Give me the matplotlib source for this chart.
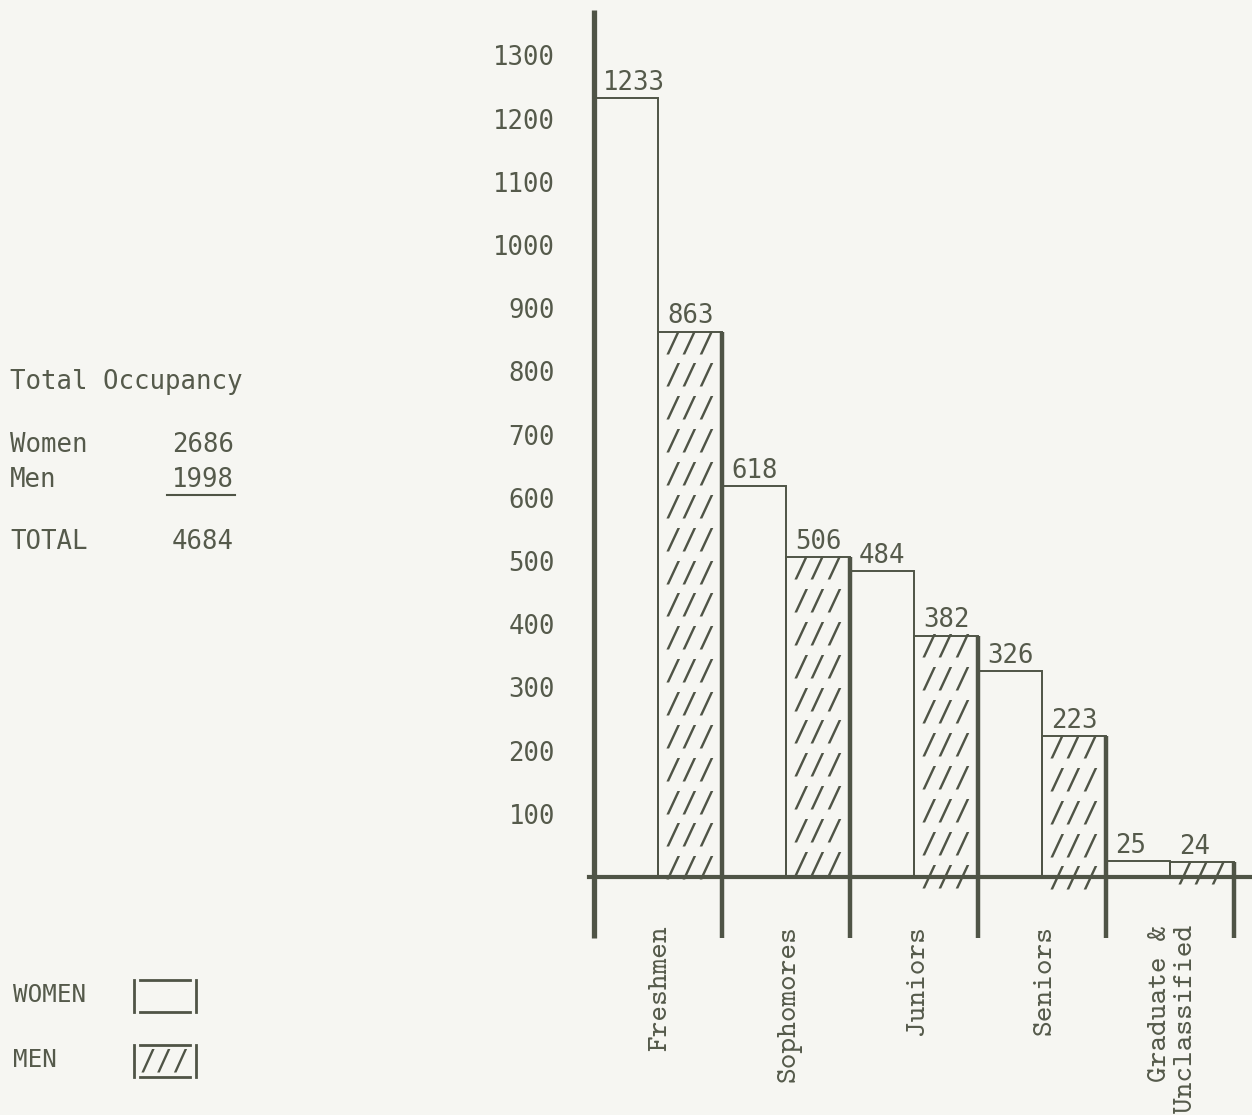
"""Residence hall occupancy by class, women vs men (typewritten style)."""

import matplotlib
matplotlib.use("Agg")
import matplotlib.pyplot as plt
from matplotlib.lines import Line2D

classes = ["Freshmen", "Sophomores", "Juniors", "Seniors", "Graduate &\nUnclassified"]
women = [1233, 618, 484, 326, 25]
men = [863, 506, 382, 223, 24]
y_ticks = list(range(100, 1400, 100))

INK = "#4f5446"
TEXT = "#555a4b"
PAPER = "#f6f6f2"
MONO = "DejaVu Sans Mono"
TYPEWRITER = ["cmtt10", "Liberation Mono"]
W, H = 1252, 1115


def px(x, y):
    """Pixel position (from top-left) to figure fraction."""
    return x / W, 1 - y / H


fig = plt.figure(figsize=(W / 100, H / 100), dpi=100, facecolor=PAPER)
ax = fig.add_axes([594 / W, 177 / H, 656 / W, 928 / H])
ax.set_facecolor("none")
ax.set_xlim(0, 10.25)
ax.set_ylim(-96.5, 1372)
for s in ax.spines.values():
    s.set_visible(False)
ax.set_xticks([])
ax.set_yticks(y_ticks)
ax.set_yticklabels([str(v) for v in y_ticks], family=MONO, fontsize=18.5, color=TEXT)
ax.tick_params(axis="y", length=0, pad=28)

# women bar then men bar inside each class slot
x_w = [2 * i for i in range(len(classes))]
x_m = [2 * i + 1 for i in range(len(classes))]
wb = ax.bar(x_w, women, width=1, align="edge", facecolor="none",
            edgecolor=INK, linewidth=1.4)
mb = ax.bar(x_m, men, width=1, align="edge", facecolor="none",
            edgecolor=INK, linewidth=1.4)

# typed "///" rows as hatching for the men bars
row_step = 52
for bar, h in zip(mb, men):
    cx = bar.get_x() + bar.get_width() / 2
    y = h - 18
    while y > -25:
        t = ax.text(cx, y, "///", ha="center", va="center", family=MONO,
                    fontsize=20.5, color=INK)
        t.set_clip_path(bar)
        y -= row_step

# thick dividers between classes, running below the baseline
for i, h in enumerate(men):
    xd = 2 * i + 2
    ax.plot([xd, xd], [-96, h], color=INK, lw=3.2, solid_capstyle="butt",
            clip_on=False)
ax.plot([0, 0], [-96, 1372], color=INK, lw=3.8, solid_capstyle="butt", clip_on=False)
ax.plot([-0.08, 10.25], [0, 0], color=INK, lw=3.0, clip_on=False)

# value labels sitting on the bar tops
for bars, vals in ((wb, women), (mb, men)):
    for bar, v in zip(bars, vals):
        ax.text(bar.get_x() + 0.14, v + 13, str(v), ha="left", va="baseline",
                family=MONO, fontsize=18.5, color=TEXT)

# rotated class names under the axis
for i, c in enumerate(classes):
    ax.text(2 * i + 1.05, -76, c, rotation=90, ha="center", va="top",
            multialignment="right", family=TYPEWRITER, fontsize=21.5,
            linespacing=1.05, color=TEXT, clip_on=False)

# summary block on the left
fs = 18.5
fig.text(*px(10, 382), "Total Occupancy", ha="left", va="center",
         family=MONO, fontsize=fs, color=TEXT)
for lab, val, yy in zip(["Women", "Men"], [sum(women), sum(men)], (445, 480)):
    fig.text(*px(10, yy), lab, ha="left", va="center", family=MONO,
             fontsize=fs, color=TEXT)
    fig.text(*px(234, yy), str(val), ha="right", va="center", family=MONO,
             fontsize=fs, color=TEXT)
fig.add_artist(Line2D([167 / W, 235 / W], [1 - 495 / H] * 2, color=INK, lw=1.5))
fig.text(*px(10, 542), "TOTAL", ha="left", va="center", family=MONO,
         fontsize=fs, color=TEXT)
fig.text(*px(234, 542), str(sum(women) + sum(men)), ha="right", va="center",
         family=MONO, fontsize=fs, color=TEXT)

# legend keys
fig.text(*px(13, 995), "WOMEN", ha="left", va="center", family=MONO,
         fontsize=17.5, color=TEXT)
fig.text(*px(13, 1060), "MEN", ha="left", va="center", family=MONO,
         fontsize=17.5, color=TEXT)


def key_box(top, bottom, hatched):
    for xv in (134, 196):
        fig.add_artist(Line2D([xv / W] * 2, [1 - top / H, 1 - bottom / H],
                              color=INK, lw=2))
    for yv in (top, bottom):
        fig.add_artist(Line2D([140 / W, 190 / W], [1 - yv / H] * 2,
                              color=INK, lw=2))
    if hatched:
        fig.text(*px(165, (top + bottom) / 2), "///", ha="center", va="center",
                 family=MONO, fontsize=20, color=INK)


key_box(980, 1012, False)
key_box(1045, 1077, True)

fig.savefig("out.png", dpi=100, facecolor=PAPER)
